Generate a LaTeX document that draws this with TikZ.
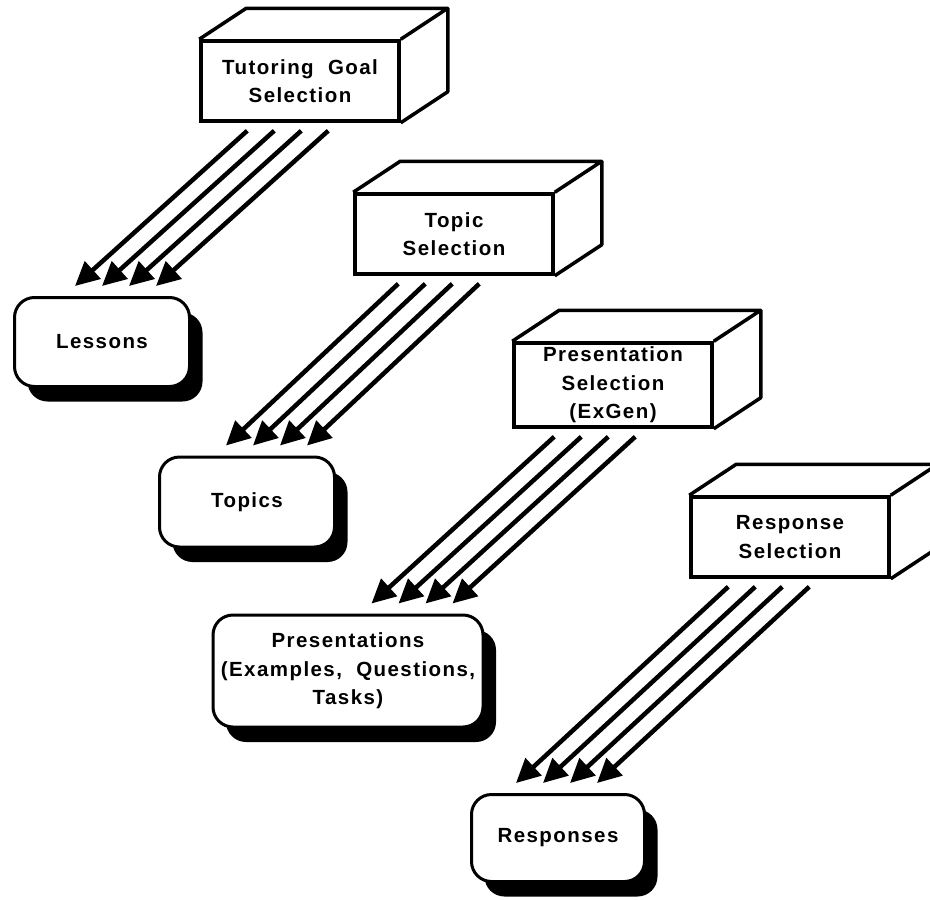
\documentclass[tikz,border=0pt]{standalone}
\usepackage{fontspec}
\setmainfont{Liberation Sans}[LetterSpace=7, WordSpace=2]
\usetikzlibrary{arrows.meta,shadows}

\begin{document}
\begin{tikzpicture}[x=1pt, y=-1pt, every node/.style={font=\fontsize{20.5}{28.5}\selectfont\bfseries, align=center},
	block/.style={draw, line width=3.5pt, minimum width=198, minimum height=80, inner sep=1pt},
	store/.style={draw, fill=white, line width=3pt, rounded corners=20pt, minimum width=175, minimum height=89, inner sep=1pt,
		drop shadow={shadow xshift=13pt, shadow yshift=-15pt, fill=black, opacity=1}},
	flow/.style={line width=4.5pt, -{Triangle[length=24pt, width=23pt]}}]
	\useasboundingbox (0,0) rectangle (930,900);
	\clip (0,0) rectangle (930,900);
	% selection blocks (front faces)
	\node[block] (goal) at (300,81) {Tutoring Goal\\Selection};
	\node[block] (topic) at (454,234) {Topic\\Selection};
	\node[block, minimum height=84] (present) at (613,385) {Presentation\\Selection\\(ExGen)};
	\node[block] (respond) at (790,537) {Response\\Selection};
	% top and side faces
	\foreach \b in {goal,topic,present,respond}
		\draw[line width=3.5pt, line join=round] (\b.north west) -- ++(47,-31) -- ([shift={(47,-31)}]\b.north east)
			-- ([shift={(47,-31)}]\b.south east) -- (\b.south east)
			(\b.north east) -- ([shift={(47,-31)}]\b.north east);
	% results
	\node[store] (lessons) at (102,342) {Lessons};
	\node[store, minimum height=90] (topics) at (247,502) {Topics};
	\node[store, minimum width=270, minimum height=112] (presentations) at (348,671) {Presentations\\(Examples, Questions,\\Tasks)};
	\node[store, minimum width=173, minimum height=87] (responses) at (558,838) {Responses};
	% four arrows per step
	\foreach \src/\dst/\a/\c in {goal/lessons/48/62, topic/topics/45/68, present/presentations/42/160, respond/responses/39/46}
		\foreach \i in {0,...,3}
			\draw[flow] ([shift={(\a+27*\i,8)}]\src.south west) -- ([shift={(\c+27*\i,-10)}]\dst.north west);
\end{tikzpicture}
\end{document}
